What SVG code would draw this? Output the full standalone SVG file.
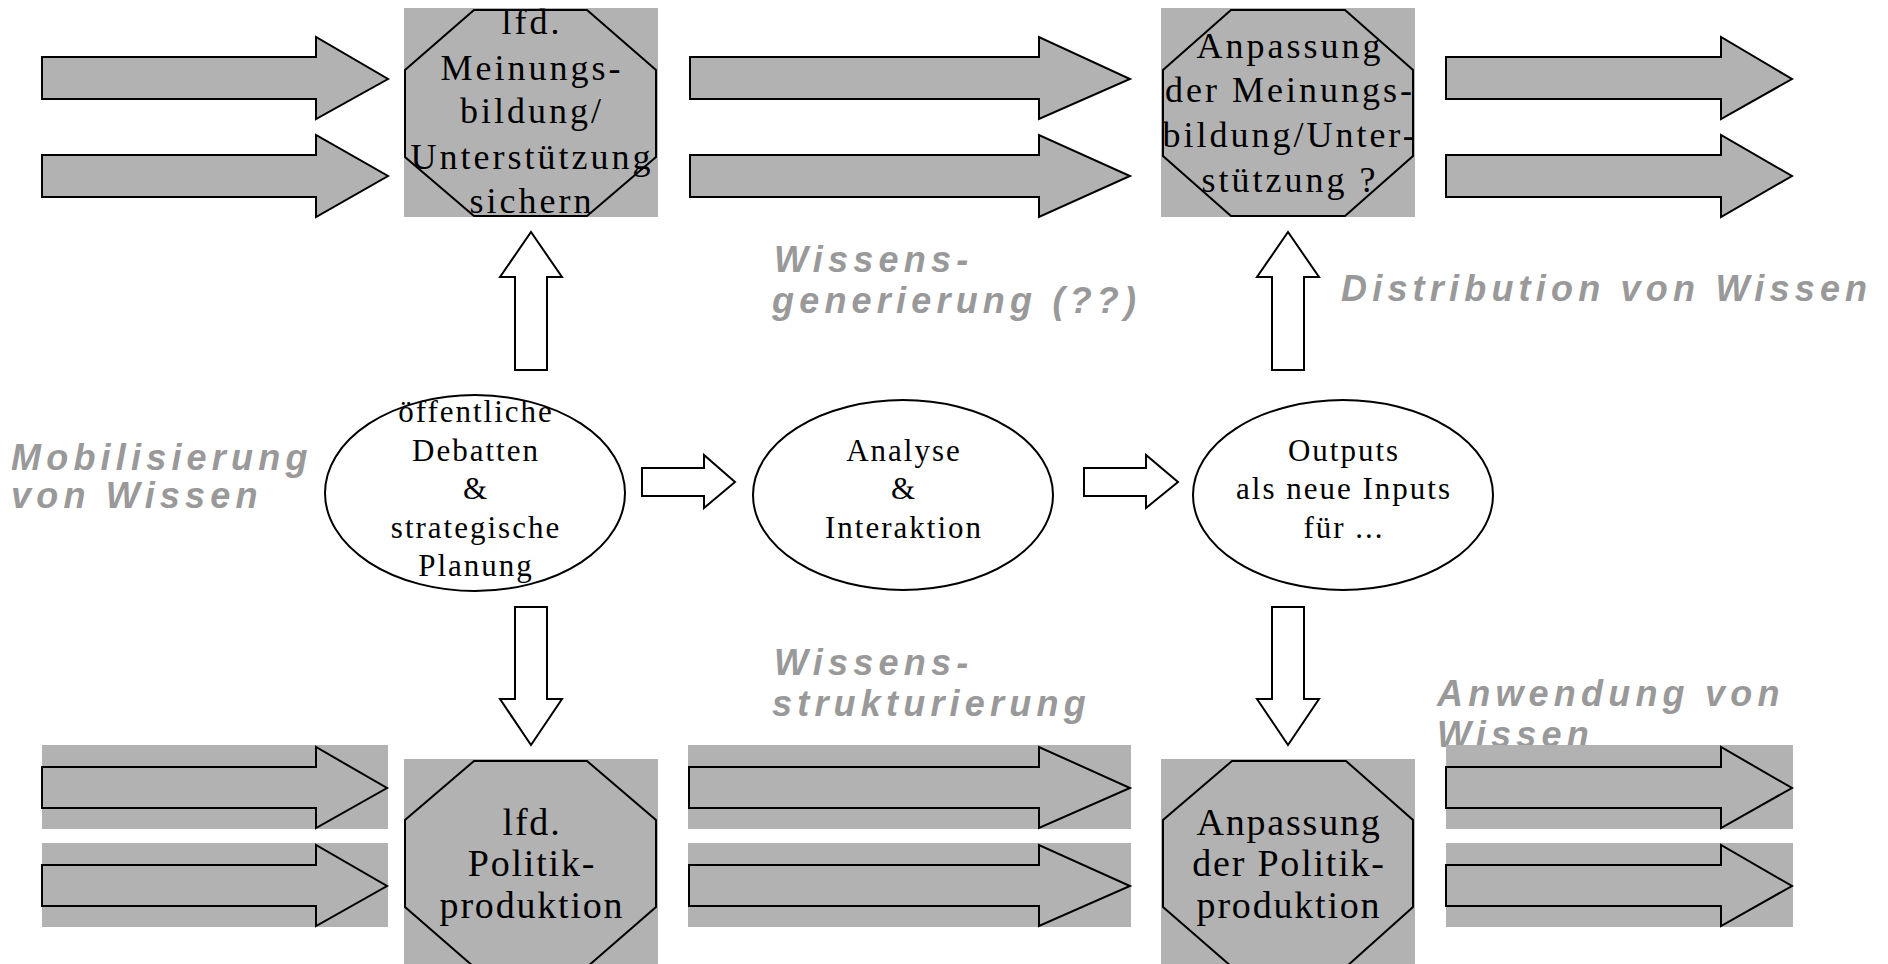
<svg xmlns="http://www.w3.org/2000/svg" width="1888" height="964" viewBox="0 0 1888 964">
<style>
.bg{fill:#b2b2b2}
.ga{fill:#b2b2b2;stroke:#000;stroke-width:2;stroke-linejoin:miter}
.oct{fill:#b2b2b2;stroke:#000;stroke-width:2}
.ell{fill:#fff;stroke:#000;stroke-width:2}
.wa{fill:#fff;stroke:#000;stroke-width:2;stroke-linejoin:miter}
.to{font-family:"Liberation Serif","Times New Roman",serif;font-size:36px;letter-spacing:3px;text-anchor:middle;fill:#000}
.bo{font-family:"Liberation Serif","Times New Roman",serif;font-size:38px;letter-spacing:1.8px;text-anchor:middle;fill:#000}
.te{font-family:"Liberation Serif","Times New Roman",serif;font-size:31px;letter-spacing:2px;text-anchor:middle;fill:#000}
.lb{font-family:"Liberation Sans",Arial,sans-serif;font-size:36px;font-weight:bold;font-style:italic;letter-spacing:5.2px;fill:#999}
</style>

<g id="labels">
<text class="lb" x="11" y="470">Mobilisierung</text>
<text class="lb" x="11" y="508">von Wissen</text>
<text class="lb" x="774" y="272">Wissens-</text>
<text class="lb" x="772" y="313">generierung (??)</text>
<text class="lb" x="1341" y="301">Distribution von Wissen</text>
<text class="lb" x="774" y="675">Wissens-</text>
<text class="lb" x="772" y="716">strukturierung</text>
<text class="lb" x="1437" y="706">Anwendung von</text>
<text class="lb" x="1437" y="747">Wissen</text>
</g>

<g id="flow-top-left">
<polygon class="ga" points="42,57 316,57 316,37 388,79 316,119 316,99 42,99"/>
<polygon class="ga" points="42,155 316,155 316,135 388,176 316,217 316,197 42,197"/>
</g>
<g id="flow-top-mid">
<polygon class="ga" points="690,57 1039,57 1039,37 1130,79 1039,119 1039,99 690,99"/>
<polygon class="ga" points="690,155 1039,155 1039,135 1130,176 1039,217 1039,197 690,197"/>
</g>
<g id="flow-top-right">
<polygon class="ga" points="1446,57 1721,57 1721,37 1792,79 1721,119 1721,99 1446,99"/>
<polygon class="ga" points="1446,155 1721,155 1721,135 1792,176 1721,217 1721,197 1446,197"/>
</g>

<g id="flow-bottom-left">
<rect class="bg" x="42" y="745" width="346" height="84"/>
<rect class="bg" x="42" y="843" width="346" height="84"/>
<polygon class="ga" points="42,767 316,767 316,747 387,788 316,828 316,808 42,808"/>
<polygon class="ga" points="42,865 316,865 316,845 387,886 316,926 316,906 42,906"/>
</g>
<g id="flow-bottom-mid">
<rect class="bg" x="688" y="745" width="443" height="84"/>
<rect class="bg" x="688" y="843" width="443" height="84"/>
<polygon class="ga" points="689,767 1039,767 1039,747 1130,788 1039,828 1039,808 689,808"/>
<polygon class="ga" points="689,865 1039,865 1039,845 1130,886 1039,926 1039,906 689,906"/>
</g>
<g id="flow-bottom-right">
<rect class="bg" x="1446" y="745" width="347" height="84"/>
<rect class="bg" x="1446" y="843" width="347" height="84"/>
<polygon class="ga" points="1446,767 1721,767 1721,747 1792,788 1721,828 1721,808 1446,808"/>
<polygon class="ga" points="1446,865 1721,865 1721,845 1792,886 1721,926 1721,906 1446,906"/>
</g>

<g id="oct-meinungsbildung">
<rect class="bg" x="404" y="8" width="254" height="209"/>
<polygon class="oct" points="474,10 587,10 656,70 656,157 587,216 474,216 405,157 405,70"/>
<text class="to" x="532" y="34">lfd.</text>
<text class="to" x="532" y="80">Meinungs-</text>
<text class="to" x="532" y="123">bildung/</text>
<text class="to" x="532" y="169">Unterstützung</text>
<text class="to" x="532" y="213">sichern</text>
</g>

<g id="oct-anpassung-meinung">
<rect class="bg" x="1161" y="8" width="254" height="209"/>
<polygon class="oct" points="1231,10 1345,10 1413,70 1413,156 1345,216 1231,216 1163,156 1163,70"/>
<text class="to" x="1290" y="58">Anpassung</text>
<text class="to" x="1290" y="102">der Meinungs-</text>
<text class="to" x="1290" y="147">bildung/Unter-</text>
<text class="to" x="1290" y="192">stützung ?</text>
</g>

<g id="oct-politik">
<rect class="bg" x="404" y="759" width="254" height="210"/>
<polygon class="oct" points="474,761 587,761 656,820 656,907 587,967 474,967 405,907 405,820"/>
<text class="bo" x="532" y="835">lfd.</text>
<text class="bo" x="532" y="876">Politik-</text>
<text class="bo" x="532" y="918">produktion</text>
</g>

<g id="oct-anpassung-politik">
<rect class="bg" x="1161" y="759" width="254" height="210"/>
<polygon class="oct" points="1232,761 1346,761 1413,820 1413,907 1346,967 1232,967 1163,907 1163,820"/>
<text class="bo" x="1289" y="835">Anpassung</text>
<text class="bo" x="1289" y="876">der Politik-</text>
<text class="bo" x="1289" y="918">produktion</text>
</g>

<g id="ell-debatten">
<ellipse class="ell" cx="475" cy="493" rx="150" ry="98"/>
<text class="te" x="476" y="422">öffentliche</text>
<text class="te" x="476" y="461">Debatten</text>
<text class="te" x="476" y="499">&amp;</text>
<text class="te" x="476" y="538">strategische</text>
<text class="te" x="476" y="576">Planung</text>
</g>

<g id="ell-analyse">
<ellipse class="ell" cx="903" cy="495" rx="150" ry="95"/>
<text class="te" x="904" y="461">Analyse</text>
<text class="te" x="904" y="499">&amp;</text>
<text class="te" x="904" y="538">Interaktion</text>
</g>

<g id="ell-outputs">
<ellipse class="ell" cx="1343" cy="495" rx="150" ry="95"/>
<text class="te" x="1344" y="461">Outputs</text>
<text class="te" x="1344" y="499">als neue Inputs</text>
<text class="te" x="1344" y="538">für ...</text>
</g>

<g id="connectors">
<polygon class="wa" points="642,468 704,468 704,455 735,482 704,508 704,496 642,496"/>
<polygon class="wa" points="1084,468 1146,468 1146,455 1178,482 1146,508 1146,496 1084,496"/>
<polygon class="wa" points="515,370 515,277 500,277 531,232 562,277 547,277 547,370"/>
<polygon class="wa" points="515,607 515,699 500,699 531,745 562,699 547,699 547,607"/>
<polygon class="wa" points="1272,370 1272,277 1257,277 1288,232 1319,277 1304,277 1304,370"/>
<polygon class="wa" points="1272,607 1272,699 1257,699 1288,745 1319,699 1304,699 1304,607"/>
</g>
</svg>
